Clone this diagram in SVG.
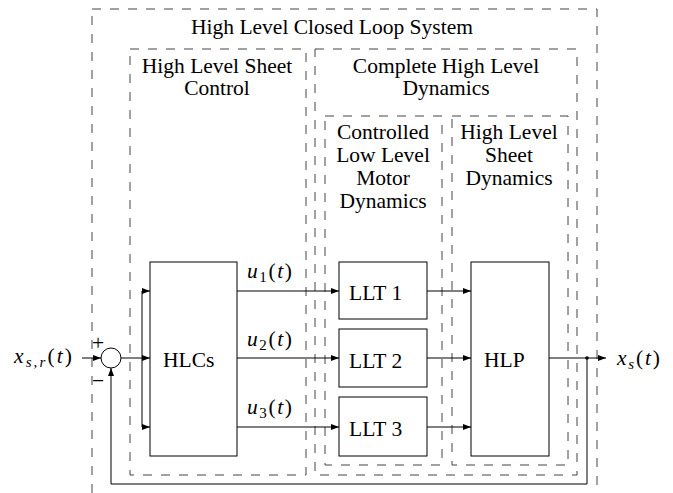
<svg xmlns="http://www.w3.org/2000/svg" width="673" height="493" viewBox="0 0 673 493">
<defs>
<marker id="arr" markerWidth="8" markerHeight="6" refX="8" refY="3" orient="auto" markerUnits="userSpaceOnUse">
<path d="M0,0 L8,3 L0,6 Z" fill="#000"/>
</marker>
<style>
.dash{fill:none;stroke:#444;stroke-width:1;stroke-dasharray:9 9}
.blk{fill:#fff;stroke:#000;stroke-width:1}
.ln{fill:none;stroke:#000;stroke-width:1}
.ar{fill:none;stroke:#000;stroke-width:1;marker-end:url(#arr)}
text{font-family:"Liberation Serif","DejaVu Serif",serif;font-size:21.5px;fill:#000}
.c{text-anchor:middle}
.m{font-style:italic}
.sub{font-size:15px}
</style>
</defs>
<rect width="673" height="493" fill="#fff"/>
<g id="frames">
<g id="closed-loop"><rect class="dash" x="92" y="9" width="505" height="520"/><text class="c" x="332" y="34">High Level Closed Loop System</text></g>
<g id="sheet-control"><rect class="dash" x="130" y="49" width="176" height="426"/><text class="c" x="217" y="73">High Level Sheet</text><text class="c" x="217" y="95">Control</text></g>
<g id="complete-dyn"><rect class="dash" x="315" y="49" width="262" height="426"/><text class="c" x="446" y="73">Complete High Level</text><text class="c" x="446" y="95">Dynamics</text></g>
<g id="motor-dyn"><rect class="dash" x="325" y="116" width="117" height="349"/><text class="c" x="383" y="139">Controlled</text><text class="c" x="383" y="162">Low Level</text><text class="c" x="383" y="185">Motor</text><text class="c" x="383" y="208">Dynamics</text></g>
<g id="sheet-dyn"><rect class="dash" x="452" y="116" width="116" height="349"/><text class="c" x="509" y="139">High Level</text><text class="c" x="509" y="162">Sheet</text><text class="c" x="509" y="185">Dynamics</text></g>
</g>
<g id="connectors">
<line class="ar" x1="82" y1="358" x2="101" y2="358"/>
<polyline class="ln" points="121,358 142,358"/>
<line class="ln" x1="142" y1="291" x2="142" y2="427"/>
<line class="ar" x1="142" y1="291" x2="150" y2="291"/>
<line class="ar" x1="142" y1="358" x2="150" y2="358"/>
<line class="ar" x1="142" y1="427" x2="150" y2="427"/>
<line class="ar" x1="237" y1="291" x2="339" y2="291"/>
<line class="ar" x1="237" y1="358" x2="339" y2="358"/>
<line class="ar" x1="237" y1="427" x2="339" y2="427"/>
<line class="ar" x1="427" y1="291" x2="471" y2="291"/>
<line class="ar" x1="427" y1="358" x2="471" y2="358"/>
<line class="ar" x1="427" y1="427" x2="471" y2="427"/>
<line class="ar" x1="549" y1="358" x2="606" y2="358"/>
<circle cx="587" cy="358" r="1.8" fill="#000"/>
<polyline class="ar" points="587,358 587,484 111,484 111,368"/>
</g>
<g id="sum"><circle cx="111" cy="358" r="10" fill="#fff" stroke="#000" stroke-width="1"/><text class="c" x="98" y="350">+</text><text class="c" x="98" y="388">−</text></g>
<g id="HLCs"><rect class="blk" x="150" y="262" width="87" height="194"/><text x="163" y="367">HLCs</text></g>
<g id="LLT1"><rect class="blk" x="339" y="262" width="88" height="57"/><text x="349" y="300">LLT 1</text></g>
<g id="LLT2"><rect class="blk" x="339" y="329" width="88" height="58"/><text x="349" y="368">LLT 2</text></g>
<g id="LLT3"><rect class="blk" x="339" y="397" width="88" height="59"/><text x="349" y="436">LLT 3</text></g>
<g id="HLP"><rect class="blk" x="471" y="262" width="78" height="194"/><text x="484" y="367">HLP</text></g>
<g id="labels">
<text x="14" y="363" textLength="58" lengthAdjust="spacing"><tspan class="m">x</tspan><tspan class="m sub" dy="4">s,r</tspan><tspan dy="-4">(</tspan><tspan class="m">t</tspan>)</text>
<text x="617" y="365" textLength="43" lengthAdjust="spacing"><tspan class="m">x</tspan><tspan class="m sub" dy="4">s</tspan><tspan dy="-4">(</tspan><tspan class="m">t</tspan>)</text>
<text x="247" y="278" textLength="45" lengthAdjust="spacing"><tspan class="m">u</tspan><tspan class="sub" dy="4">1</tspan><tspan dy="-4">(</tspan><tspan class="m">t</tspan>)</text>
<text x="247" y="346" textLength="45" lengthAdjust="spacing"><tspan class="m">u</tspan><tspan class="sub" dy="4">2</tspan><tspan dy="-4">(</tspan><tspan class="m">t</tspan>)</text>
<text x="247" y="414" textLength="45" lengthAdjust="spacing"><tspan class="m">u</tspan><tspan class="sub" dy="4">3</tspan><tspan dy="-4">(</tspan><tspan class="m">t</tspan>)</text>
</g>
</svg>
